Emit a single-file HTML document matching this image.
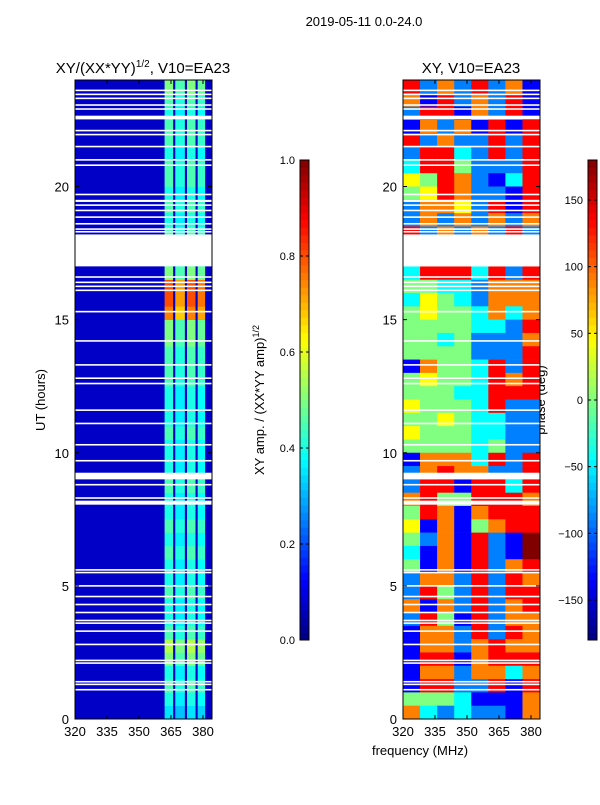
<!DOCTYPE html>
<html><head><meta charset="utf-8"><style>
body{margin:0;background:#fff;width:600px;height:800px;overflow:hidden}
svg text{font-family:"Liberation Sans",sans-serif;fill:#000}
</style></head><body>
<svg id="s" width="600" height="800" xmlns="http://www.w3.org/2000/svg">
<text x="364" y="26" font-size="13" text-anchor="middle">2019-05-11 0.0-24.0</text>
<text x="143" y="73" font-size="15" text-anchor="middle">XY/(XX*YY)<tspan font-size="10" dy="-6">1/2</tspan><tspan dy="6">, V10=EA23</tspan></text>
<text x="471" y="73" font-size="15" text-anchor="middle">XY, V10=EA23</text>
<text transform="translate(45,400) rotate(-90)" font-size="13" text-anchor="middle">UT (hours)</text>
<text x="420" y="755" font-size="13" text-anchor="middle">frequency (MHz)</text>
<text transform="translate(264,400) rotate(-90)" font-size="13" text-anchor="middle">XY amp. / (XX*YY amp)<tspan font-size="9" dy="-5">1/2</tspan></text>
<text transform="translate(545,400) rotate(-90)" font-size="13" text-anchor="middle">phase (deg)</text>
<g id="g"></g>
</svg>
<script>
// ---- data ----
const hourTicks=[0,5,10,15,20];
const freqTicks=[320,335,350,365,380];
const ampTicks=[0.0,0.2,0.4,0.6,0.8,1.0];
const phaseTicks=[-150,-100,-50,0,50,100,150];
// amplitude of bright band (362-384 MHz) per half-hour row, from 0h upward
const ampBand=[0.35,0.4,0.45,0.4,0.5,0.55,0.45,0.4,0.4,0.45,0.4,0.4,0.45,0.4,0.45,0.4,0.4,0.45,0.4,0.4,0.4,0.45,0.4,0.4,0.4,0.45,0.45,0.45,0.5,0.5,0.75,0.8,0.8,0.5,0.45,0.45,0.45,0.4,0.45,0.4,0.45,0.45,0.4,0.45,0.45,0.4,0.45,0.5];
const ampSub=[1.0,0.9,1.0,0.95];
const ampBg=0.07;
// phase grid, rows from 24h down, digits 0..8 => -180..180
const phaseRows=["72627261","61726271","27716271","16261717","72622727","27732727","37742227","54762137","45762217","26652717","26262626","72626272","--------","--------","37773727","44332666","35432666","45443636","44443327","44342226","44442227","16443727","45443767","44433777","54443722","44543322","54443322","44443422","16663727","26766227","27717737","67447776","47616777","51614677","42617218","31617218","41617267","26627276","27427277","61627267","27417266","16627276","16626766","17716777","16626636","17722717","44431116","63232216"];
// white (flagged) time ranges [start,end] hours
const gaps=[[23.58,23.64],[23.43,23.49],[23.28,23.34],[23.03,23.09],[22.88,22.94],[22.52,22.66],[22.07,22.13],[21.92,21.98],[21.47,21.53],[20.97,21.03],[20.77,20.83],[19.67,19.73],[19.42,19.5],[19.27,19.33],[19.07,19.13],[18.82,18.88],[18.57,18.63],[18.37,18.43],[18.27,18.33],[17.0,18.2],[16.57,16.63],[16.37,16.43],[16.22,16.28],[16.07,16.13],[15.27,15.33],[14.17,14.23],[13.27,13.33],[12.77,12.83],[12.57,12.63],[11.57,11.63],[11.07,11.13],[10.27,10.33],[9.67,9.73],[9.0,9.25],[8.77,8.83],[8.27,8.33],[8.05,8.2],[5.57,5.63],[5.47,5.53],[4.97,5.03],[4.57,4.63],[4.27,4.33],[3.97,4.03],[3.67,3.73],[3.57,3.63],[3.27,3.33],[2.77,2.83],[2.17,2.23],[2.07,2.13],[1.37,1.43],[1.27,1.33],[1.07,1.13]];
// ---- helpers ----
const NS="http://www.w3.org/2000/svg",G=document.getElementById('g');
function mk(t,a,p){const e=document.createElementNS(NS,t);for(const k in a)e.setAttribute(k,a[k]);(p||G).appendChild(e);return e;}
function jet(v){v=Math.max(0,Math.min(1,v));const c=x=>Math.round(255*Math.max(0,Math.min(1,1.5-Math.abs(4*v-x))));return `rgb(${c(3)},${c(2)},${c(1)})`;}
const Y0=719,Y1=80;
const yS=h=>Y0-(h/24)*(Y0-Y1);
function xS(f,x0){return x0+(f-320)*(128/60);}
const panels=[{x0:75,name:'amp'},{x0:403,name:'phase'}];
// left panel
{const x0=75;
 mk('rect',{x:x0,y:Y1,width:137,height:Y0-Y1,fill:jet(ampBg)});
 const subs=[[362,366],[367,371.5],[372.5,376.5],[377.5,381]];
 ampBand.forEach((v,i)=>{
  subs.forEach((s,j)=>{const r=mk('rect',{x:xS(s[0],x0),y:yS(i*0.5+0.5),width:xS(s[1],x0)-xS(s[0],x0),height:yS(0)-yS(0.5)+0.3,fill:jet(v*ampSub[j])});
  
  });
 });}
// right panel
{const x0=403;
 phaseRows.forEach((row,i)=>{const h=24-i*0.5;
  for(let j=0;j<8;j++){const ch=row[j];if(ch==='-')continue;
   const r=mk('rect',{x:xS(320+j*8,x0),y:yS(h),width:xS(8,0)-xS(0,0)+0.3,height:yS(0)-yS(0.5)+0.3,fill:jet(+ch/8)});
   
   }
 });}
// gaps and frames, ticks
panels.forEach(p=>{
 gaps.forEach(g=>{mk('rect',{x:p.x0,y:yS(g[1]),width:137,height:Math.max(1.5,yS(g[0])-yS(g[1])),fill:'#fff'});});
 const fr=mk('rect',{x:p.x0,y:Y1,width:137,height:Y0-Y1,fill:'none',stroke:'#000','stroke-width':1});
 
 
 hourTicks.forEach(h=>{const y=yS(h);
  mk('line',{x1:p.x0,x2:p.x0+4,y1:y,y2:y,stroke:'#000'});mk('line',{x1:p.x0+137,x2:p.x0+133,y1:y,y2:y,stroke:'#000'});
  const t=mk('text',{x:p.x0-6,y:y+5,'font-size':13,'text-anchor':'end'});t.textContent=h;
  
  });
 freqTicks.forEach(f=>{const x=xS(f,p.x0);
  mk('line',{x1:x,x2:x,y1:Y0,y2:Y0-4,stroke:'#000'});mk('line',{x1:x,x2:x,y1:Y1,y2:Y1+4,stroke:'#000'});
  const t=mk('text',{x:x,y:Y0+17,'font-size':13,'text-anchor':'middle'});t.textContent=f;
  
  });
});
// colorbars
function cbar(x,lo,hi,ticks,name){
 const n=64;for(let i=0;i<n;i++){mk('rect',{x:x,y:640-(i+1)*480/n,width:9,height:480/n+0.3,fill:jet((i+0.5)/n)});}
 const f=mk('rect',{x:x,y:160,width:9,height:480,fill:'none',stroke:'#000'});
 
 
 ticks.forEach(v=>{const y=640-(v-lo)/(hi-lo)*480;
  mk('line',{x1:x,x2:x+3,y1:y,y2:y,stroke:'#000'});mk('line',{x1:x+9,x2:x+6,y1:y,y2:y,stroke:'#000'});
  const t=mk('text',{x:x-5,y:y+4,'font-size':11,'text-anchor':'end'});
  t.textContent=(typeof v==='number'&&lo===0)?v.toFixed(1):String(v).replace('-','\u2212');
  
  });
}
cbar(300,0,1,ampTicks,'amp-colorbar');
cbar(588,-180,180,phaseTicks,'phase-colorbar');
</script>
</body></html>
